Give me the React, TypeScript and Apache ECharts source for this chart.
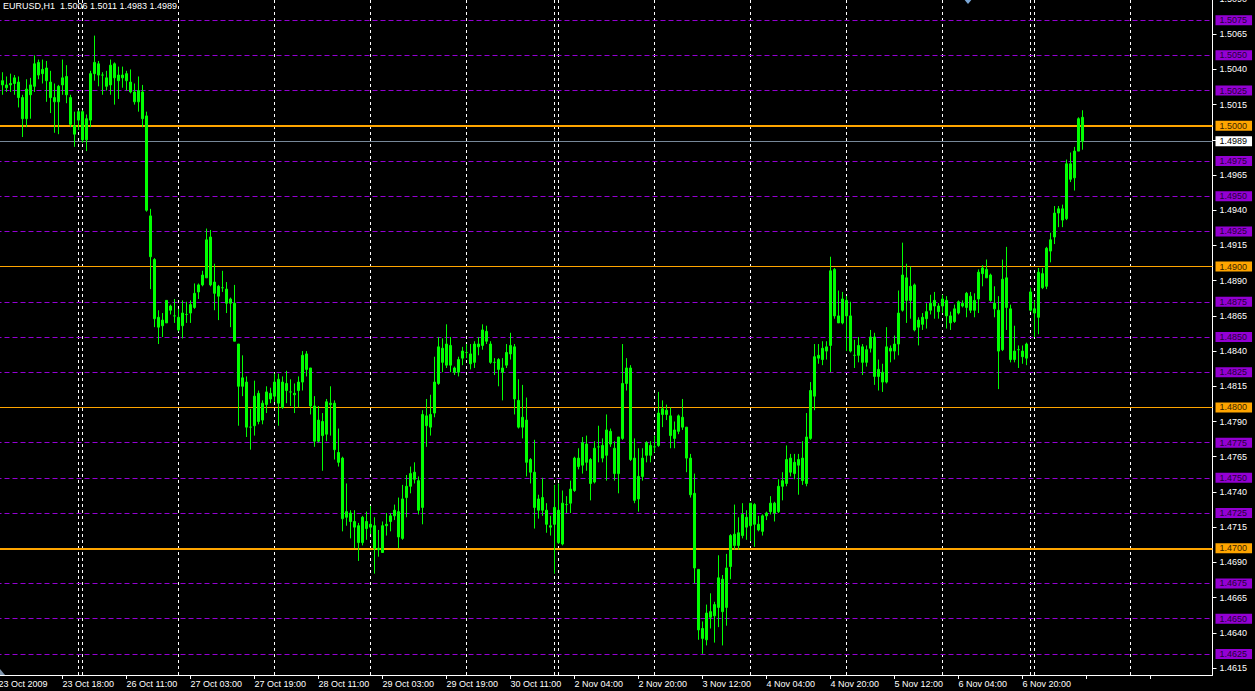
import React, { useEffect, useRef } from "react";
import * as echarts from "echarts";

// Prices are read as offsets from 1.5000, in pips (0.0001)
const BASE_PRICE = 1.5;
const PIP = 0.0001;

const openPips = [
  40,
  29, 29, 29, 30, 31, 20, 5, 22, 28, 45,
  37, 41, 31, 20, 17, 29, 35, 20, 0, 4,
  10, -10, 4, 37, 44, 36, 34, 29, 44, 36,
  34, 37, 31, 24, 17, 24, 7, -64, -95, -136,
  -142, -140, -128, -135, -136, -142, -134, -133, -129, -118,
  -113, -108, -79, -111, -121, -115, -116, -126, -126, -155,
  -185, -182, -214, -213, -190, -209, -198, -190, -192, -180,
  -200, -183, -189, -190, -188, -182, -162, -172, -199, -224,
  -210, -219, -197, -197, -232, -236, -278, -275, -281, -284,
  -296, -281, -285, -284, -300, -303, -284, -281, -277, -274,
  -293, -264, -256, -246, -252, -271, -206, -214, -204, -183,
  -158, -170, -156, -172, -175, -165, -161, -162, -168, -157,
  -156, -146, -155, -168, -166, -172, -170, -162, -157, -195,
  -214, -209, -237, -246, -273, -264, -273, -284, -283, -273,
  -297, -269, -268, -259, -236, -241, -226, -237, -253, -228,
  -227, -234, -217, -229, -247, -222, -183, -172, -236, -265,
  -249, -234, -227, -228, -227, -205, -202, -206, -222, -217,
  -207, -214, -236, -261, -315, -357, -365, -345, -348, -342,
  -322, -342, -313, -290, -298, -291, -278, -284, -269, -283,
  -288, -277, -274, -268, -274, -256, -254, -236, -247, -241,
  -236, -254, -222, -192, -165, -166, -160, -156, -102, -135,
  -140, -124, -135, -163, -163, -157, -168, -158, -150, -178,
  -175, -182, -158, -160, -155, -131, -108, -124, -113, -143,
  -136, -137, -131, -128, -128, -128, -124, -135, -139, -133,
  -126, -129, -121, -131, -123, -105, -102, -106, -126, -131,
  -159, -108, -130, -166, -159, -160, -165, -131, -130, -136,
  -105, -114, -89, -79, -62, -59, -66, -27, -37, -18, 6,
];
const closePips = [
  29,
  32, 27, 30, 34, 20, 5, 26, 29, 44, 36,
  40, 32, 20, 17, 28, 34, 22, 1, -6, 10,
  -10, 5, 37, 45, 36, 36, 28, 43, 34, 32,
  36, 32, 24, 17, 25, 5, -60, -93, -137, -143,
  -138, -124, -131, -135, -145, -133, -134, -127, -119, -113,
  -106, -81, -113, -119, -114, -115, -126, -123, -153, -185,
  -179, -214, -214, -192, -210, -197, -189, -194, -182, -197,
  -182, -188, -189, -191, -182, -163, -173, -199, -224, -209,
  -220, -196, -198, -230, -239, -279, -274, -281, -285, -296,
  -278, -286, -283, -300, -301, -284, -283, -277, -273, -292,
  -265, -256, -247, -251, -273, -205, -213, -205, -182, -157,
  -168, -155, -170, -175, -166, -160, -161, -169, -155, -155,
  -145, -153, -168, -168, -173, -175, -161, -156, -194, -214,
  -207, -239, -246, -271, -265, -273, -283, -285, -271, -296,
  -268, -269, -258, -236, -242, -225, -239, -254, -229, -228,
  -236, -216, -226, -247, -221, -183, -172, -237, -266, -249,
  -236, -225, -234, -228, -204, -201, -205, -220, -216, -206,
  -214, -236, -262, -314, -358, -364, -346, -349, -340, -321,
  -345, -314, -291, -298, -289, -276, -285, -268, -283, -287,
  -277, -275, -268, -275, -256, -252, -237, -246, -239, -237,
  -252, -221, -188, -164, -163, -158, -157, -103, -135, -140,
  -123, -135, -160, -163, -156, -168, -159, -150, -178, -173,
  -182, -157, -160, -155, -133, -106, -124, -114, -145, -138,
  -141, -132, -126, -124, -132, -123, -135, -140, -130, -125,
  -128, -119, -131, -124, -104, -101, -108, -124, -130, -160,
  -109, -129, -166, -160, -159, -164, -155, -118, -133, -104,
  -115, -87, -81, -62, -59, -67, -27, -38, -18, 5, -11,
];
const lowPips = [
  25,
  22, 24, 24, 22, 13, -8, -1, 5, 24, 33,
  30, 17, 9, -5, -6, 22, 16, -1, -15, -3,
  -12, -18, -1, 32, 28, 22, 25, 22, 15, 19,
  27, 25, 23, 15, 10, -1, -61, -116, -143, -155,
  -150, -140, -134, -140, -146, -151, -140, -140, -130, -123,
  -114, -108, -114, -131, -138, -118, -133, -143, -153, -213,
  -192, -221, -230, -220, -212, -212, -204, -197, -196, -213,
  -201, -197, -199, -204, -200, -188, -178, -205, -228, -225,
  -245, -224, -220, -237, -242, -288, -284, -293, -300, -309,
  -298, -294, -290, -318, -306, -303, -291, -288, -280, -300,
  -294, -278, -261, -254, -276, -283, -228, -220, -207, -184,
  -175, -172, -175, -177, -178, -170, -165, -173, -172, -163,
  -159, -155, -169, -177, -185, -195, -172, -166, -205, -215,
  -222, -249, -254, -286, -279, -277, -289, -291, -318, -297,
  -298, -275, -275, -260, -244, -247, -245, -266, -254, -239,
  -239, -252, -228, -252, -261, -223, -188, -238, -268, -274,
  -252, -239, -239, -232, -228, -214, -209, -229, -229, -219,
  -216, -246, -264, -325, -365, -375, -369, -357, -367, -356,
  -369, -355, -322, -301, -301, -293, -294, -295, -299, -288,
  -291, -280, -276, -281, -275, -266, -256, -249, -251, -262,
  -255, -256, -223, -202, -169, -170, -166, -175, -137, -140,
  -141, -160, -161, -172, -168, -177, -171, -161, -184, -188,
  -189, -183, -168, -166, -163, -132, -140, -137, -146, -156,
  -145, -144, -134, -137, -137, -133, -144, -145, -140, -134,
  -129, -136, -133, -136, -133, -114, -108, -125, -136, -187,
  -160, -145, -168, -168, -172, -169, -170, -132, -150, -148,
  -116, -116, -97, -84, -72, -72, -67, -40, -46, -18, -17,
];
const highPips = [
  42,
  38, 35, 37, 36, 35, 22, 33, 34, 50, 47,
  47, 46, 39, 30, 29, 47, 43, 22, 10, 11,
  11, 8, 39, 64, 46, 38, 39, 47, 45, 42,
  42, 39, 40, 30, 35, 29, 10, -59, -94, -131,
  -133, -124, -127, -123, -130, -124, -125, -124, -112, -112,
  -103, -73, -74, -98, -113, -103, -111, -122, -113, -155,
  -163, -178, -201, -181, -188, -195, -185, -186, -176, -176,
  -178, -174, -180, -183, -178, -160, -160, -172, -192, -199,
  -204, -194, -185, -195, -215, -235, -254, -273, -273, -282,
  -277, -274, -270, -278, -287, -281, -275, -275, -269, -264,
  -255, -248, -242, -239, -249, -202, -194, -191, -164, -150,
  -151, -141, -150, -171, -164, -157, -155, -155, -153, -150,
  -141, -142, -153, -165, -165, -165, -155, -147, -155, -180,
  -184, -193, -236, -223, -262, -250, -268, -277, -255, -254,
  -259, -263, -252, -235, -229, -221, -220, -236, -224, -213,
  -222, -205, -215, -224, -221, -155, -165, -170, -222, -229,
  -229, -224, -224, -220, -189, -195, -198, -200, -210, -205,
  -194, -214, -233, -247, -315, -352, -340, -332, -338, -305,
  -319, -304, -290, -269, -278, -268, -273, -268, -268, -277,
  -276, -274, -263, -267, -251, -246, -227, -233, -233, -233,
  -224, -204, -182, -155, -155, -153, -153, -93, -101, -117,
  -118, -121, -125, -152, -150, -155, -156, -145, -147, -166,
  -169, -143, -156, -149, -117, -83, -98, -100, -112, -136,
  -133, -126, -120, -118, -126, -120, -121, -132, -127, -124,
  -124, -118, -118, -119, -102, -99, -95, -105, -114, -121,
  -95, -86, -127, -142, -156, -156, -154, -115, -124, -101,
  -101, -86, -76, -57, -57, -56, -24, -19, -15, 6, 11,
];

const timeLabels = [
  "23 Oct 2009", "23 Oct 18:00", "26 Oct 11:00", "27 Oct 03:00", "27 Oct 19:00",
  "28 Oct 11:00", "29 Oct 03:00", "29 Oct 19:00", "30 Oct 11:00", "2 Nov 04:00",
  "2 Nov 20:00", "3 Nov 12:00", "4 Nov 04:00", "4 Nov 20:00", "5 Nov 12:00",
  "6 Nov 04:00", "6 Nov 20:00",
];
const LABEL_STEP = 16;
const CATEGORY_COUNT = 304;
const daySeparators = [20, 21, 45, 69, 93, 117, 139, 140, 164, 188, 212, 236, 258, 259, 283];

const priceTicks = [
  1.4615, 1.464, 1.4665, 1.469, 1.4715, 1.474, 1.4765, 1.479, 1.4815, 1.484,
  1.4865, 1.489, 1.4915, 1.494, 1.4965, 1.499, 1.5015, 1.504, 1.5065, 1.509,
];
const purpleLevels = [
  1.5075, 1.505, 1.5025, 1.4975, 1.495, 1.4925, 1.4875, 1.485, 1.4825,
  1.4775, 1.475, 1.4725, 1.4675, 1.465, 1.4625,
];
const orangeLevels = [1.5, 1.49, 1.48, 1.47];
const orangeWidths = [2, 1, 1, 2];
const bidPrice = 1.4989;
const titleText = "EURUSD,H1\u00a0\u00a01.5006 1.5011 1.4983 1.4989";

const FONT = "'Liberation Sans', Arial, sans-serif";

function toPrice(p: number) {
  return Math.round((BASE_PRICE + p * PIP) * 10000) / 10000;
}

export default function App() {
  const ref = useRef<HTMLDivElement>(null);

  useEffect(() => {
    document.body.style.margin = "0";
    document.body.style.background = "#000";
    if (!ref.current) return;
    const chart = echarts.init(ref.current, undefined, { renderer: "svg" });

    const categories = Array.from({ length: CATEGORY_COUNT }, (_, k) => String(k));
    const candles = openPips.map((o, k) => [
      toPrice(o),
      toPrice(closePips[k]),
      toPrice(lowPips[k]),
      toPrice(highPips[k]),
    ]);

    const boxLabel = (bg: string, fg: string) => ({
      show: true,
      position: "end",
      distance: 3,
      formatter: (p: any) => Number(p.value).toFixed(4),
      color: fg,
      backgroundColor: bg,
      padding: [1, 5, 0, 4],
      fontSize: 9,
      fontFamily: FONT,
    });

    const markData: any[] = [];
    daySeparators.forEach((j) => {
      markData.push({
        xAxis: String(j),
        lineStyle: { color: "#ffffff", width: 1, type: [3, 3] },
        label: { show: false },
      });
    });
    purpleLevels.forEach((v) => {
      markData.push({
        yAxis: v,
        lineStyle: { color: "#9400d3", width: 1, type: [5, 3] },
        label: boxLabel("#9400d3", "#24003a"),
      });
    });
    orangeLevels.forEach((v, k) => {
      markData.push({
        yAxis: v,
        lineStyle: { color: "#ffa500", width: orangeWidths[k], type: "solid" },
        label: boxLabel("#ffa500", "#3a2400"),
      });
    });
    markData.push({
      yAxis: bidPrice,
      lineStyle: { color: "#778899", width: 1, type: "solid" },
      label: boxLabel("#ffffff", "#000000"),
    });

    const option: any = {
      animation: false,
      backgroundColor: "#000000",
      title: {
        text: titleText,
        left: 3,
        top: 1,
        padding: 0,
        textStyle: { color: "#ffffff", fontSize: 9, fontWeight: "normal", fontFamily: FONT },
      },
      grid: {
        left: -3.5,
        top: -1,
        width: CATEGORY_COUNT * 4,
        height: 676,
        containLabel: false,
        outerBoundsMode: "none",
      },
      xAxis: {
        type: "category",
        data: categories,
        boundaryGap: true,
        axisLine: { show: true, lineStyle: { color: "#ffffff", width: 1 } },
        axisTick: {
          show: true,
          alignWithLabel: true,
          interval: (i: number) => i % LABEL_STEP === 0,
          length: 4,
          lineStyle: { color: "#ffffff" },
        },
        axisLabel: {
          interval: (i: number) => i % LABEL_STEP === 0,
          formatter: (_v: string, i: number) => timeLabels[i / LABEL_STEP] ?? "",
          align: "left",
          color: "#ffffff",
          fontSize: 9,
          fontFamily: FONT,
          margin: 4,
        },
        splitLine: { show: false },
      },
      yAxis: {
        type: "value",
        position: "right",
        min: 1.461,
        max: 1.509,
        axisLine: { show: true, lineStyle: { color: "#ffffff", width: 1 } },
        axisTick: {
          show: true,
          customValues: priceTicks,
          length: 4,
          lineStyle: { color: "#ffffff" },
        },
        axisLabel: {
          customValues: priceTicks,
          formatter: (v: number) => v.toFixed(4),
          color: "#ffffff",
          fontSize: 9,
          fontFamily: FONT,
          margin: 7,
        },
        splitLine: { show: false },
      },
      series: [
        {
          type: "candlestick",
          data: candles,
          barWidth: 2,
          z: 3,
          itemStyle: {
            color: "#00ff00",
            color0: "#00ff00",
            borderColor: "#00ff00",
            borderColor0: "#00ff00",
            borderWidth: 1,
          },
          markLine: {
            z: 1,
            silent: true,
            precision: 5,
            symbol: ["none", "none"],
            animation: false,
            data: markData,
          },
        },
      ],
      graphic: [
        {
          type: "polygon",
          shape: { points: [[963, -2], [968, 4], [973, -2]] },
          style: { fill: "#7aa6d6" },
          z: 10,
        },
        {
          type: "polygon",
          shape: { points: [[0, 669], [0, 675], [5, 675]] },
          style: { fill: "#7f95ad" },
          z: 10,
        },
      ],
    };

    chart.setOption(option);
    return () => chart.dispose();
  }, []);

  return (
    <div
      ref={ref}
      style={{ position: "fixed", left: 0, top: 0, width: 1255, height: 691, background: "#000" }}
    />
  );
}
